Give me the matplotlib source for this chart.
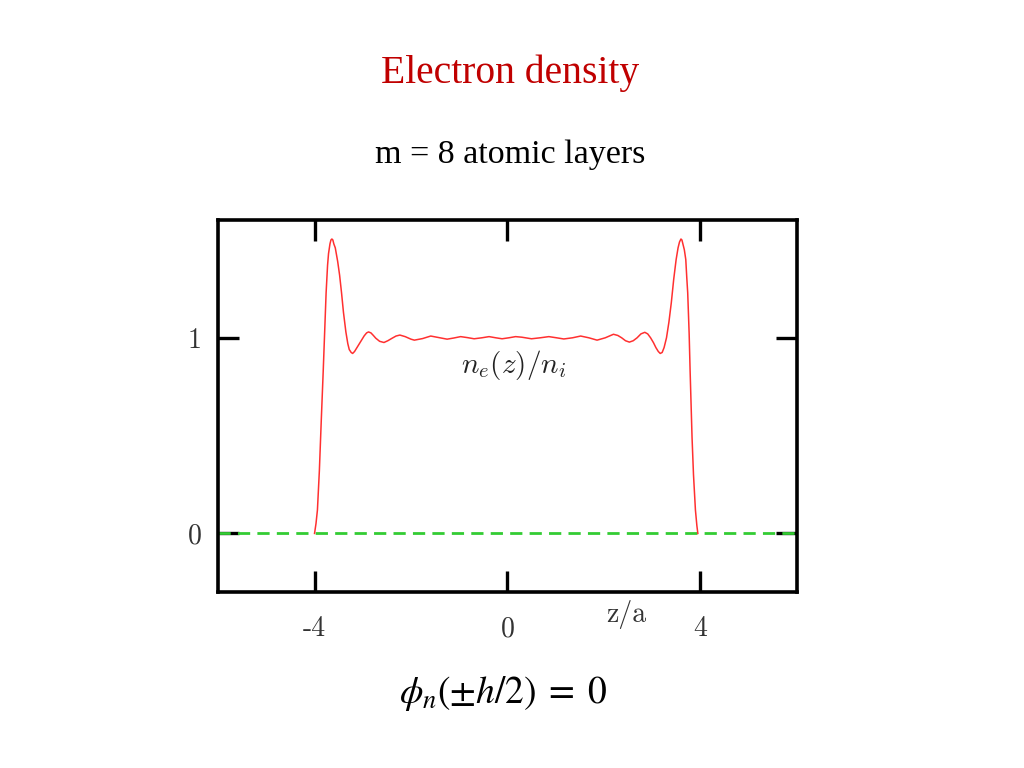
import matplotlib
matplotlib.use('Agg')
import matplotlib.pyplot as plt
import numpy as np

plt.rcParams['axes.unicode_minus'] = False
plt.rcParams['mathtext.fontset'] = 'cm'

# electron density profile n_e(z)/n_i
z_vals = [-4.00, -3.97, -3.94, -3.90, -3.86, -3.82, -3.79, -3.76, -3.73, -3.71,
          -3.68, -3.66, -3.64, -3.62, -3.60, -3.57, -3.52, -3.48, -3.44, -3.40,
          -3.35, -3.31, -3.28, -3.24, -3.21, -3.17, -3.12, -3.07, -3.02, -2.97,
          -2.92, -2.88, -2.83, -2.78, -2.73, -2.65, -2.56, -2.48, -2.39, -2.31,
          -2.23, -2.12, -2.00, -1.93, -1.76, -1.59, -1.42, -1.25, -1.11, -0.97,
          -0.83, -0.69, -0.53, -0.38, -0.24, -0.11, 0.03, 0.17, 0.30, 0.50,
          0.68, 0.86, 1.02, 1.17, 1.35, 1.52, 1.69, 1.86, 2.03, 2.20,
          2.29, 2.37, 2.45, 2.53, 2.61, 2.69, 2.77, 2.85, 2.91, 2.97,
          3.03, 3.08, 3.13, 3.17, 3.21, 3.25, 3.30, 3.35, 3.40, 3.45,
          3.50, 3.54, 3.57, 3.60, 3.62, 3.64, 3.67, 3.70, 3.72, 3.74,
          3.77, 3.79, 3.81, 3.83, 3.86, 3.90, 3.93, 3.95]
n_vals = [0.00, 0.05, 0.12, 0.32, 0.58, 0.83, 1.03, 1.23, 1.37, 1.43,
          1.48, 1.50, 1.505, 1.50, 1.48, 1.46, 1.39, 1.32, 1.23, 1.13,
          1.03, 0.97, 0.94, 0.925, 0.92, 0.93, 0.95, 0.97, 0.99, 1.01,
          1.025, 1.03, 1.025, 1.012, 0.998, 0.982, 0.976, 0.985, 0.998, 1.009,
          1.014, 1.006, 0.993, 0.988, 0.996, 1.009, 1.001, 0.993, 0.999, 1.006,
          1.001, 0.995, 1.000, 1.006, 1.000, 0.995, 1.000, 1.006, 1.003, 0.995,
          1.000, 1.006, 1.000, 0.994, 1.000, 1.009, 1.000, 0.988, 1.000, 1.018,
          1.012, 1.000, 0.985, 0.978, 0.985, 1.000, 1.020, 1.028, 1.020, 1.000,
          0.975, 0.95, 0.93, 0.92, 0.925, 0.95, 1.00, 1.08, 1.18, 1.30,
          1.40, 1.46, 1.49, 1.505, 1.50, 1.48, 1.45, 1.40, 1.31, 1.23,
          1.02, 0.83, 0.66, 0.49, 0.30, 0.12, 0.04, 0.00]

x_ticks = [-4, 0, 4]
x_ticklabels = ['-4', '0', '4']
y_ticks = [0, 1]
y_ticklabels = ['0', '1']

fig = plt.figure(figsize=(10.24, 7.68), dpi=100)
ax = fig.add_axes([0.213, 0.229, 0.565, 0.484])

ax.plot([-6, 6], [0, 0], color='#33cc33', linewidth=2.0, dashes=(4.4, 2.6))
ax.plot(z_vals, n_vals, color='#ff3030', linewidth=1.1)

ax.set_xlim(-6, 6)
ax.set_ylim(-0.3, 1.6)

ax.set_xticks(x_ticks)
ax.set_xticklabels(x_ticklabels, fontfamily='cmr10', fontsize=20, color='#333333')
ax.set_yticks(y_ticks)
ax.set_yticklabels(y_ticklabels, fontfamily='cmr10', fontsize=20, color='#333333')
ax.tick_params(axis='both', direction='in', length=15, width=2.4,
               top=True, right=True, color='black')
ax.tick_params(axis='x', pad=17)
ax.tick_params(axis='y', pad=12)
for sp in ax.spines.values():
    sp.set_linewidth(2.6)

ax.text(0.13, 0.86, r'$n_e(z)/n_i$', fontsize=21, ha='center', va='center', color='#222222')
fig.text(0.612, 0.200, 'z/a', fontfamily='cmr10', fontsize=20, ha='center', va='center',
         color='#333333')

fig.text(0.498, 0.905, 'Electron density', fontfamily='Liberation Serif', fontsize=28.5,
         color='#c00000', ha='center', va='center')
fig.text(0.498, 0.798, 'm = 8 atomic layers', fontfamily='Liberation Serif', fontsize=24.5,
         color='black', ha='center', va='center')
fig.text(0.491, 0.097, r'$\phi_n(\pm h/2)\;=\;0$', fontsize=27, ha='center', va='center',
         math_fontfamily='stix')

fig.savefig('out.png', dpi=100)
